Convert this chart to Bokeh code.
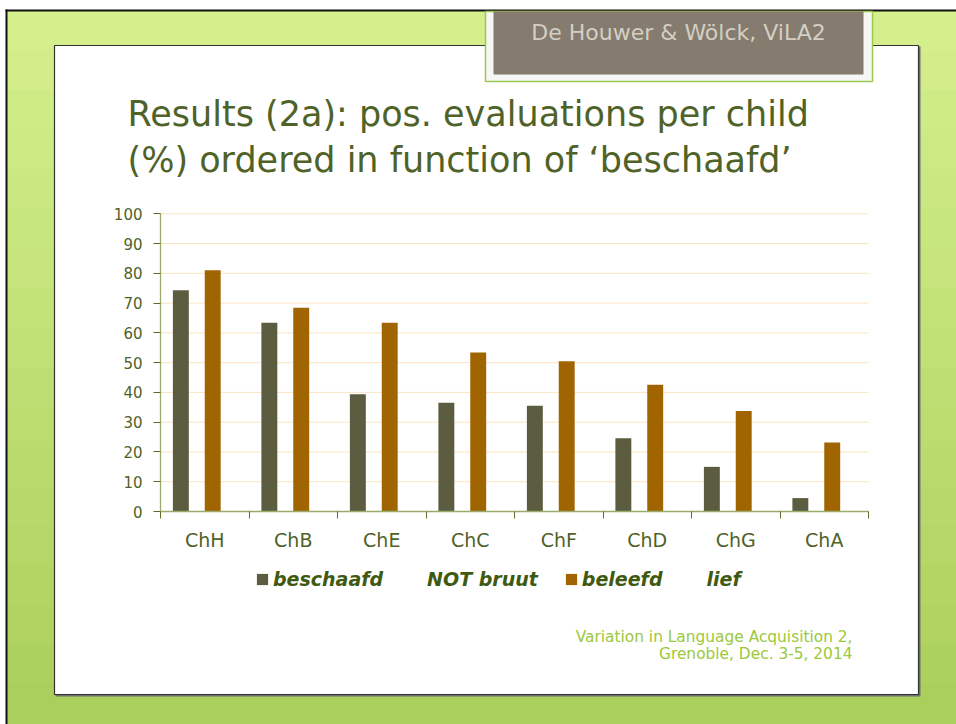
from bokeh.plotting import figure
from bokeh.models import (Range1d, FixedTicker, LinearAxis, Legend, LegendItem)
from bokeh.core.properties import value
from bokeh.embed import file_html
from bokeh.resources import INLINE

# ---------------- data ----------------
children = ["ChH", "ChB", "ChE", "ChC", "ChF", "ChD", "ChG", "ChA"]
beschaafd = [74.3, 63.4, 39.4, 36.5, 35.5, 24.6, 15.0, 4.5]
not_bruut = [0, 0, 0, 0, 0, 0, 0, 0]
beleefd = [81.0, 68.4, 63.4, 53.4, 50.5, 42.6, 33.8, 23.2]
lief = [0, 0, 0, 0, 0, 0, 0, 0]
series_names = ["beschaafd", "NOT bruut", "beleefd", "lief"]
y_ticks = [0, 10, 20, 30, 40, 50, 60, 70, 80, 90, 100]

title_lines = ["Results (2a): pos. evaluations per child",
               "(%) ordered in function of \u2018beschaafd\u2019"]
header_text = "De Houwer & W\u00f6lck, ViLA2"
footer_lines = ["Variation in Language Acquisition 2,",
                "Grenoble, Dec. 3-5, 2014"]

# ---------------- layout / style ----------------
W, H = 956, 724
FONT = "DejaVu Sans"
OLIVE = "#4f6228"

# chart area inside the slide (pixels from top-left)
PL, PR, PT, PB = 160.0, 868.0, 213.3, 511.0
n = len(children)
unit = (PR - PL) / n
cat_start = -PL / unit
cat_end = cat_start + W / unit
f0 = (H - PB) / H
f1 = (H - PT) / H
span = 100.0 / (f1 - f0)
pct_start = -f0 * span
pct_end = pct_start + span

p = figure(width=W, height=H, output_backend="svg", toolbar_location=None,
           x_range=Range1d(0, W), y_range=Range1d(H, 0),
           x_axis_type=None, y_axis_type=None,
           min_border=0, min_border_left=0, min_border_right=0,
           min_border_top=0, min_border_bottom=0,
           border_fill_color="#ffffff", background_fill_color="#ffffff",
           outline_line_color=None)
p.extra_x_ranges = {"cat": Range1d(cat_start, cat_end)}
p.extra_y_ranges = {"pct": Range1d(pct_start, pct_end)}

# ---- slide decoration ----
top_c = (0xd4, 0xef, 0x8c)
bot_c = (0xab, 0xcf, 0x5c)
nb = 18
band_top, band_bot, band_col = [], [], []
for i in range(nb):
    f = i / (nb - 1)
    c = tuple(int(round(top_c[k] + (bot_c[k] - top_c[k]) * f)) for k in range(3))
    band_col.append("#%02x%02x%02x" % c)
    band_top.append(10 + (H - 10) * i / nb)
    band_bot.append(10 + (H - 10) * (i + 1) / nb + 1)
p.quad(left=[6] * nb, right=[W + 5] * nb, top=band_top, bottom=band_bot,
       fill_color=band_col, line_color=None)
# black rules at top and left of the slide
p.quad(left=[5], right=[W + 5], top=[9], bottom=[11], fill_color="#111111", line_color=None)
p.quad(left=[5], right=[7], top=[9], bottom=[H + 5], fill_color="#111111", line_color=None)

# white content panel (shadow + panel)
p.quad(left=[55], right=[920], top=[46], bottom=[696],
       fill_color="#6f6f6f", line_color=None)
p.quad(left=[54], right=[918], top=[45], bottom=[694],
       fill_color="#ffffff", line_color="#333333", line_width=1.2)

# header box
p.quad(left=[485], right=[872], top=[11], bottom=[81],
       fill_color="#f6f6f4", line_color="#9cc850", line_width=1.5)
p.quad(left=[493], right=[863], top=[11], bottom=[74],
       fill_color="#857b6f", line_color=None)
p.text(x=[678], y=[32], text=[header_text], text_font=value(FONT),
       text_font_size="22px", text_color="#d3cfc3",
       text_align="center", text_baseline="middle")

# title
p.text(x=[127, 127], y=[113, 159], text=title_lines,
       text_font=value(FONT), text_font_size="35px", text_color=OLIVE,
       text_align="left", text_baseline="middle")

# footer
p.text(x=[852, 852], y=[636, 653.5], text=footer_lines,
       text_font=value(FONT), text_font_size="15.4px", text_color="#9cc83c",
       text_align="right", text_baseline="middle")

# ---------------- grid lines ----------------
p.segment(x0=[0] * len(y_ticks), x1=[n] * len(y_ticks), y0=y_ticks, y1=y_ticks,
          line_color="#fde3c2", line_width=1,
          x_range_name="cat", y_range_name="pct")

# ---------------- bars ----------------
offsets = [-0.27, -0.09, 0.09, 0.27]
bar_w = 0.18
series = [beschaafd, not_bruut, beleefd, lief]
colors = ["#5b5c40", "#ffffff", "#a06400", "#ffffff"]
alphas = [1, 0, 1, 0]
renderers = []
for vals, off, col, a in zip(series, offsets, colors, alphas):
    r = p.vbar(x=[i + 0.5 + off for i in range(n)], top=vals, width=bar_w,
               fill_color=col, fill_alpha=a, line_color=None,
               x_range_name="cat", y_range_name="pct")
    renderers.append(r)

# ---------------- axes ----------------
yax = LinearAxis(x_range_name="cat", y_range_name="pct", fixed_location=0,
                 bounds=(0, 100))
yax.ticker = FixedTicker(ticks=y_ticks, minor_ticks=[])
yax.axis_line_color = "#9aab6d"
yax.axis_line_width = 1.3
yax.major_tick_line_color = "#5b6e2b"
yax.major_tick_out = 7
yax.major_tick_in = 0
yax.minor_tick_line_color = None
yax.major_label_text_color = OLIVE
yax.major_label_text_font = FONT
yax.major_label_text_font_size = "15px"
yax.major_label_standoff = 11
p.add_layout(yax, "left")

centers = [i + 0.5 for i in range(n)]
bounds = [i for i in range(n + 1)]
xax = LinearAxis(x_range_name="cat", y_range_name="pct", fixed_location=0,
                 bounds=(0, n))
xax.ticker = FixedTicker(ticks=centers, minor_ticks=bounds)
xax.major_label_overrides = {c: name for c, name in zip(centers, children)}
xax.axis_line_color = "#9aab6d"
xax.axis_line_width = 1.6
xax.major_tick_line_color = None
xax.major_tick_out = 0
xax.major_tick_in = 0
xax.minor_tick_line_color = "#5b6e2b"
xax.minor_tick_out = 7
xax.minor_tick_in = 0
xax.major_label_text_color = OLIVE
xax.major_label_text_font = FONT
xax.major_label_text_font_size = "19px"
xax.major_label_standoff = 10
p.add_layout(xax, "below")

# ---------------- legend ----------------
legend = Legend(items=[LegendItem(label=nm, renderers=[r])
                       for nm, r in zip(series_names, renderers)],
                orientation="horizontal", location=(255, H - 578 - 12),
                label_text_font=FONT, label_text_font_style="bold italic",
                label_text_font_size="19px", label_text_color="#3f5a10",
                glyph_width=14, glyph_height=14, label_standoff=4,
                spacing=26, padding=0, margin=0,
                background_fill_alpha=0, border_line_color=None)
p.add_layout(legend)

html = file_html(p, INLINE)
open("out.html", "w").write(html)
